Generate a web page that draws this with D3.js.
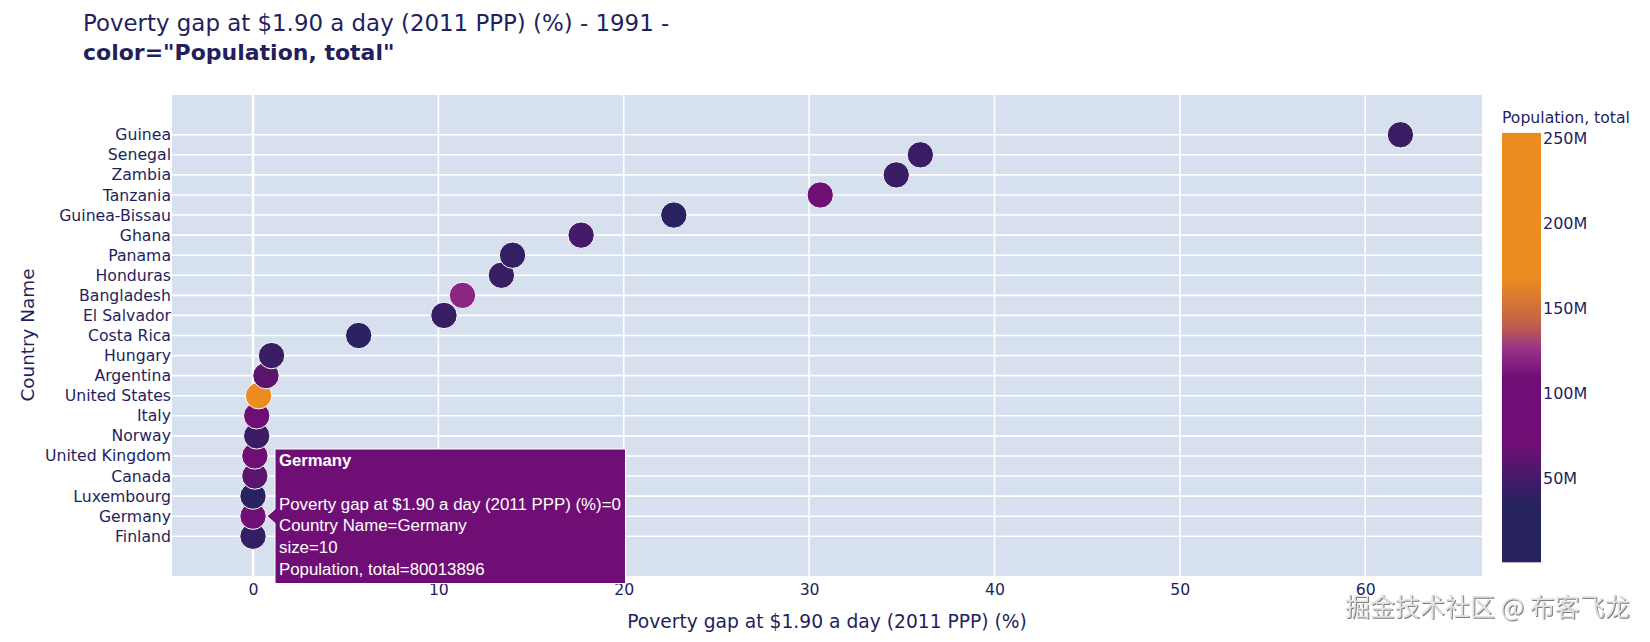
<!DOCTYPE html>
<html>
<head>
<meta charset="utf-8">
<script src="https://cdn.jsdelivr.net/npm/d3@7"></script>
<style>
html,body{margin:0;padding:0;background:#fff}
svg{display:block}
text{font-family:"DejaVu Sans",sans-serif;fill:#231f5e}
.tip text{font-family:"Liberation Sans",Arial,sans-serif;fill:#fff}
.wm{font-family:"Noto Sans CJK SC",sans-serif;fill:#e2e2e2;filter:drop-shadow(1px 1px 0 #7d7d7d)}
</style>
</head>
<body>
<svg id="c" width="1650" height="642"></svg>
<script>
const countries = ["Guinea","Senegal","Zambia","Tanzania","Guinea-Bissau","Ghana","Panama","Honduras","Bangladesh","El Salvador","Costa Rica","Hungary","Argentina","United States","Italy","Norway","United Kingdom","Canada","Luxembourg","Germany","Finland"];
const povertyGap = [61.9,36.0,34.7,30.6,22.7,17.7,14.0,13.4,11.3,10.3,5.7,1.0,0.7,0.3,0.2,0.2,0.1,0.1,0,0,0];
const populationM = [45,45,44,72,36,50,42,44,120,43,38,44,60,252,72,45,72,60,36,80,42];
const xTicks = [0,10,20,30,40,50,60];
const colorTicks = [50,100,150,200,250];
const colorStops = [0.4,35,70,109,125,140,168,253];
const colorValues = ["#26235f","#26235f","#6f0f75","#6f0f75","#97308a","#c0604a","#ec8b1f","#ec8b1f"];
const tooltipLines = ["Poverty gap at $1.90 a day (2011 PPP) (%)=0","Country Name=Germany","size=10","Population, total=80013896"];
const titleLine1 = "Poverty gap at $1.90 a day (2011 PPP) (%) - 1991 -";
const titleLine2 = 'color="Population, total"';

const svg = d3.select("#c");
const P = {l:172,r:1482,t:95,b:576};
const x = d3.scaleLinear().domain([-4.37,66.3]).range([P.l,P.r]);
const y = d3.scalePoint().domain(countries).range([P.t,P.b]).padding(1.98);
const color = d3.scaleLinear().domain(colorStops).range(colorValues).clamp(true);

svg.append("rect").attr("x",P.l).attr("y",P.t).attr("width",P.r-P.l).attr("height",P.b-P.t).attr("fill","#d6e0ee");

// grid
svg.append("g").selectAll("line").data(countries).join("line")
  .attr("x1",P.l).attr("x2",P.r).attr("y1",d=>y(d)).attr("y2",d=>y(d))
  .attr("stroke","#fff").attr("stroke-width",1.6);
svg.append("g").selectAll("line").data(xTicks).join("line")
  .attr("x1",d=>x(d)).attr("x2",d=>x(d)).attr("y1",P.t).attr("y2",P.b)
  .attr("stroke","#fff").attr("stroke-width",d=>d===0?2.6:1.6);

// axes
const xAxis = svg.append("g").attr("transform",`translate(0,${P.b})`)
  .call(d3.axisBottom(x).tickValues(xTicks).tickSize(0).tickPadding(8));
const yAxis = svg.append("g").attr("transform",`translate(${P.l},0)`)
  .call(d3.axisLeft(y).tickSize(0).tickPadding(1));
[xAxis,yAxis].forEach(a=>{a.select(".domain").remove();a.selectAll("text").attr("font-size",15.7).style("font-family",'"DejaVu Sans",sans-serif').style("fill","#231f5e");});

// points, drawn bottom-up so the upper countries overlap the lower ones
const pts = countries.map((c,i)=>({c,v:povertyGap[i],p:populationM[i]})).reverse();
svg.append("g").selectAll("circle").data(pts).join("circle")
  .attr("cx",d=>x(d.v)).attr("cy",d=>y(d.c)).attr("r",13.2)
  .attr("fill",d=>color(d.p)).attr("stroke","#fff").attr("stroke-width",1);

// colorbar
const cb = {x:1502,w:39};
const cy = d3.scaleLinear().domain([50,250]).range([478,138]);
const defs = svg.append("defs");
const grad = defs.append("linearGradient").attr("id","cbg").attr("x1",0).attr("x2",0).attr("y1",1).attr("y2",0);
const cTop = cy(253), cBot = cy(0.4);
grad.selectAll("stop").data(colorStops).join("stop")
  .attr("offset",d=>(cy(d)-cBot)/(cTop-cBot)).attr("stop-color",d=>color(d));
svg.append("rect").attr("x",cb.x).attr("y",cTop).attr("width",cb.w).attr("height",cBot-cTop).attr("fill","url(#cbg)");
svg.append("g").selectAll("text").data(colorTicks).join("text")
  .attr("x",cb.x+cb.w+2).attr("y",d=>cy(d)).attr("dy","0.36em").attr("font-size",16)
  .text(d=>d+"M");
svg.append("text").attr("x",1502).attr("y",123).attr("font-size",15.65).text("Population, total");

// titles
svg.append("text").attr("x",83).attr("y",31).attr("font-size",22.9).text(titleLine1);
svg.append("text").attr("x",83).attr("y",60).attr("font-size",22).attr("font-weight","bold").text(titleLine2);
svg.append("text").attr("transform","translate(34,335) rotate(-90)").attr("text-anchor","middle").attr("font-size",18.4).text("Country Name");
svg.append("text").attr("x",827).attr("y",628).attr("text-anchor","middle").attr("font-size",18.7).text("Poverty gap at $1.90 a day (2011 PPP) (%)");

// tooltip for Germany
const gy = y("Germany");
const tip = svg.append("g").attr("class","tip");
tip.append("path")
  .attr("d",`M${x(0)+14},${gy}L275,${gy-7}V449H625.5V583.5H275V${gy+7}Z`)
  .attr("fill","#6f0f75").attr("stroke","#fff").attr("stroke-width",1);
tip.append("text").attr("x",279).attr("y",466).attr("font-size",16.7).attr("font-weight","bold").text("Germany");
tip.selectAll("text.l").data(tooltipLines).join("text").attr("class","l")
  .attr("x",279).attr("y",(d,i)=>509.5+i*21.8).attr("font-size",16.85).text(d=>d);

// watermark
svg.append("text").attr("class","wm").attr("x",1345).attr("y",616).attr("font-size",25).text("掘金技术社区 @ 布客飞龙");
</script>
</body>
</html>
